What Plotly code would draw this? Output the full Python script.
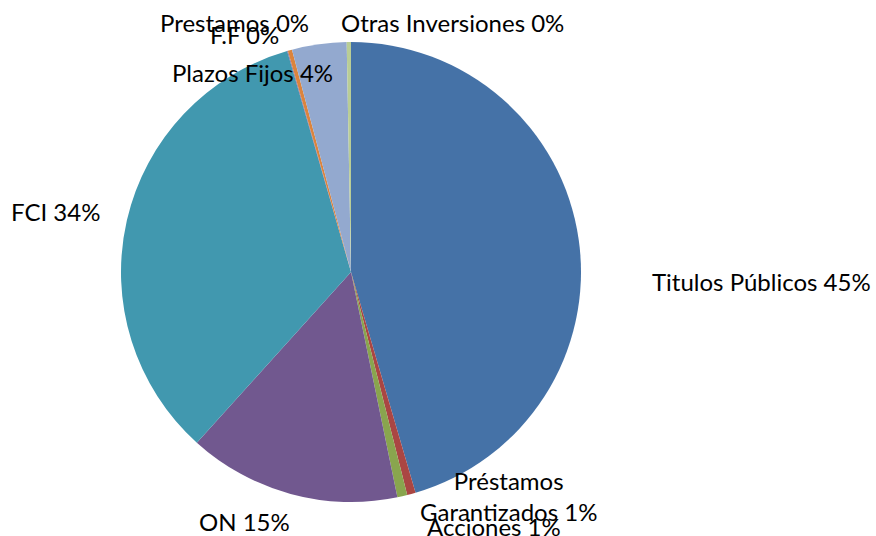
import plotly.graph_objects as go

categories = ["Titulos Públicos", "Préstamos Garantizados", "Acciones", "ON", "FCI",
              "Prestamos", "F.F", "Plazos Fijos", "Otras Inversiones"]
values = [45.7, 0.6, 0.7, 15.0, 34.0, 0.05, 0.3, 3.85, 0.3]
pct_labels = ["45%", "1%", "1%", "15%", "34%", "0%", "0%", "4%", "0%"]
colors = ["#4572A7", "#AA4643", "#89A54E", "#71588F", "#4198AF",
          "#7D5FA0", "#DB843D", "#93A9CF", "#B9CD96"]

# label text (category + percent) and placement (reference pixel coordinates)
label_text = ["Titulos Públicos 45%", "Préstamos<br>Garantizados 1%", "Acciones 1%", "ON 15%",
              "FCI 34%", "Prestamos 0%", "F.F 0%", "Plazos Fijos 4%", "Otras Inversiones 0%"]
label_xy_px = [(761, 281), (509, 496), (494, 526), (244, 521), (55, 211),
               (234, 23), (244, 34), (252, 73), (453, 23)]

W, H = 876, 536


def px_x(x):
    return x / W


def px_y(y):
    return 1 - y / H


fig = go.Figure(go.Pie(
    labels=categories,
    values=values,
    marker=dict(colors=colors, line=dict(width=0)),
    sort=False,
    direction="clockwise",
    rotation=0,
    textinfo="none",
    hoverinfo="label+percent",
    domain=dict(x=[px_x(121), px_x(581)], y=[px_y(502), px_y(42)]),
    showlegend=False,
))

for txt, (px, py) in zip(label_text, label_xy_px):
    fig.add_annotation(
        x=px_x(px), y=px_y(py), xref="paper", yref="paper",
        text=txt, showarrow=False, xanchor="center", yanchor="middle",
        font=dict(family="Lato, Liberation Sans, sans-serif", size=24, color="#000000"),
    )

fig.update_layout(
    width=W, height=H,
    margin=dict(l=0, r=0, t=0, b=0),
    paper_bgcolor="white", plot_bgcolor="white",
)

fig.write_html(
    "out.html",
    config={"displayModeBar": False},
    post_script="document.body.style.margin='0';document.body.style.overflow='hidden';",
)
